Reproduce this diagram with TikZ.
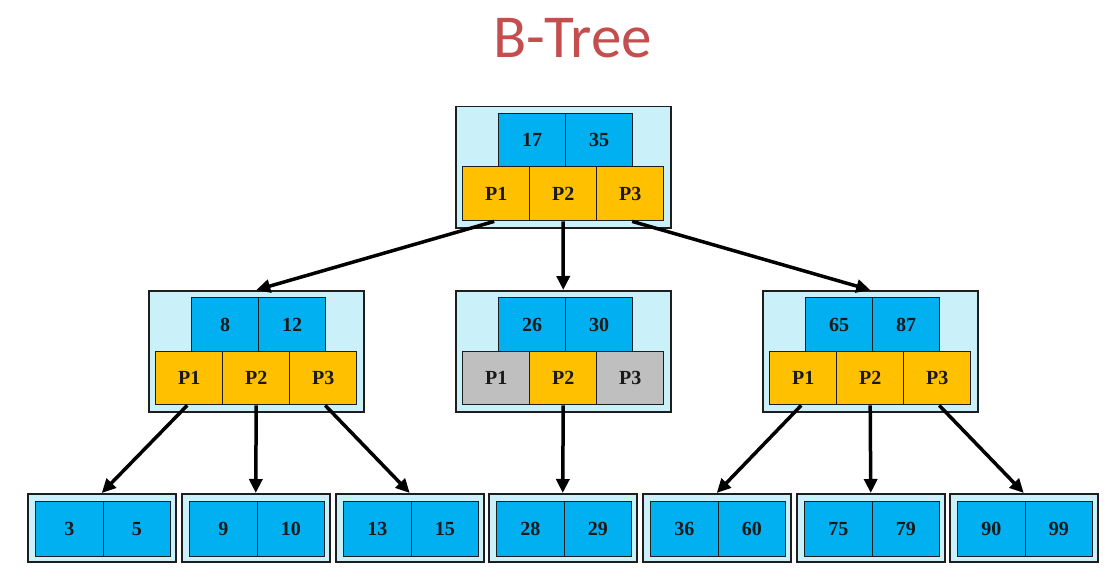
\documentclass[tikz,border=0pt]{standalone}
\usepackage{fontspec}
\setmainfont{Liberation Serif}
\newfontfamily\titlefont{Carlito}
\usetikzlibrary{arrows.meta}
\definecolor{keyblue}{RGB}{0,176,240}
\definecolor{ptrorange}{RGB}{255,192,0}
\definecolor{ptrgray}{RGB}{191,191,191}
\definecolor{outercyan}{RGB}{202,240,250}
\definecolor{titlered}{RGB}{196,78,78}
\definecolor{edgegray}{RGB}{30,30,30}
\tikzset{
  outerbox/.style={draw=edgegray, line width=1.5pt, fill=outercyan, inner sep=0pt, anchor=north west},
  cellbox/.style={draw=edgegray, line width=1.4pt, inner sep=0pt, anchor=north west,
    font=\fontsize{20}{20}\selectfont\bfseries, text=black!90},
  keycell/.style={cellbox, fill=keyblue, minimum width=67pt, minimum height=54pt},
  ptrcell/.style={cellbox, minimum width=67pt, minimum height=53pt},
  leafcell/.style={cellbox, fill=keyblue, minimum width=67.5pt, minimum height=55pt},
  link/.style={line width=3.5pt, draw=black, -{Triangle[length=14pt,width=13pt]}}
}
\newcommand\btinner[8]{%
  \node[outerbox, minimum width=215pt, minimum height=121pt] (#1) at (#2,#3) {};
  \node[keycell] (#1k1) at (#2+43,#3+7) {#4};
  \node[keycell] (#1k2) at (#2+110,#3+7) {#5};
  \node[ptrcell, fill=#6] (#1p1) at (#2+7,#3+61) {P1};
  \node[ptrcell, fill=#7] (#1p2) at (#2+74,#3+61) {P2};
  \node[ptrcell, fill=#8] (#1p3) at (#2+141,#3+61) {P3};
}
\newcommand\btleaf[4]{%
  \node[outerbox, minimum width=148pt, minimum height=68pt] (#1) at (#2,493) {};
  \node[leafcell] (#1k1) at (#2+8,501) {#3};
  \node[leafcell] (#1k2) at (#2+75.5,501) {#4};
}
\begin{document}
\begin{tikzpicture}[x=1pt,y=-1pt]
\useasboundingbox[fill=white] (0,0) rectangle (1105,588);
\node[text=titlered, font=\titlefont\fontsize{61}{61}\selectfont] (title) at (572.5,38) {B-Tree};
% root (its key row is 53 high, pointer row 54)
\node[outerbox, minimum width=215pt, minimum height=121pt] (root) at (455,106) {};
\node[keycell, minimum height=53pt] (rootk1) at (498,113) {17};
\node[keycell, minimum height=53pt] (rootk2) at (565,113) {35};
\node[ptrcell, fill=ptrorange, minimum height=54pt] (rootp1) at (462,166) {P1};
\node[ptrcell, fill=ptrorange, minimum height=54pt] (rootp2) at (529,166) {P2};
\node[ptrcell, fill=ptrorange, minimum height=54pt] (rootp3) at (596,166) {P3};
% second level
\btinner{L}{148}{290}{8}{12}{ptrorange}{ptrorange}{ptrorange}
\btinner{C}{455}{290}{26}{30}{ptrgray}{ptrorange}{ptrgray}
\btinner{R}{762}{290}{65}{87}{ptrorange}{ptrorange}{ptrorange}
% leaves
\btleaf{a}{27}{3}{5}
\btleaf{b}{181}{9}{10}
\btleaf{c}{335}{13}{15}
\btleaf{d}{488}{28}{29}
\btleaf{e}{642}{36}{60}
\btleaf{f}{796}{75}{79}
\btleaf{g}{949}{90}{99}
% links
\draw[link] ([xshift=-2pt]rootp1.south) -- (L.north);
\draw[link] (rootp2.south) -- (C.north);
\draw[link] ([xshift=2pt]rootp3.south) -- (R.north);
\draw[link] ([xshift=-2pt]Lp1.south) -- (a.north);
\draw[link] (Lp2.south) -- (b.north);
\draw[link] ([xshift=2pt]Lp3.south) -- (c.north);
\draw[link] (Cp2.south) -- (d.north);
\draw[link] ([xshift=-2pt]Rp1.south) -- (e.north);
\draw[link] (Rp2.south) -- (f.north);
\draw[link] ([xshift=2pt]Rp3.south) -- (g.north);
\end{tikzpicture}
\end{document}
